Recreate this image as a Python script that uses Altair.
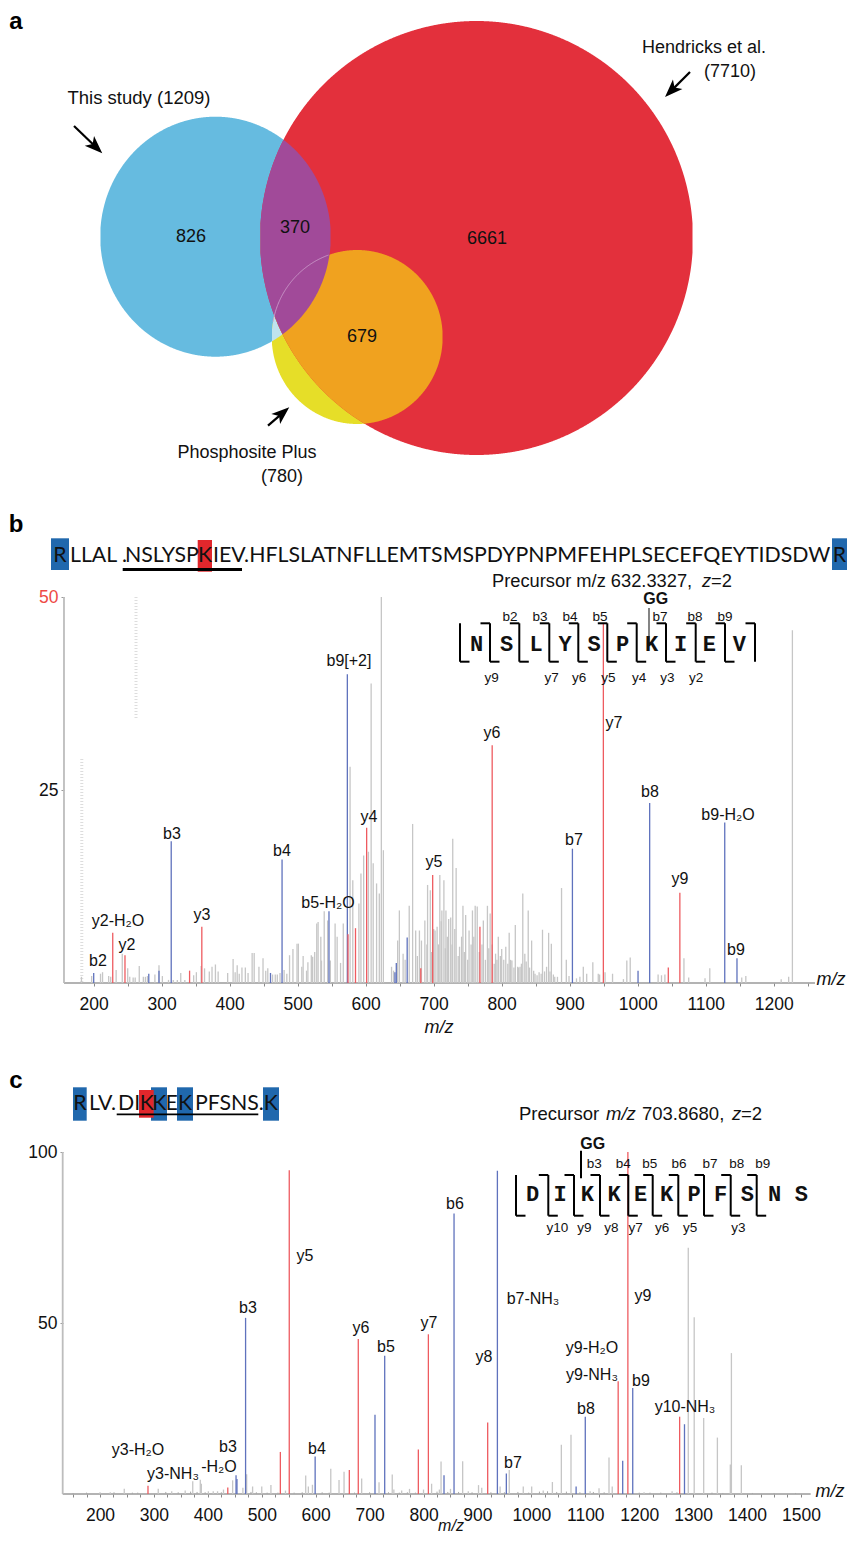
import altair as alt
import numpy as np
import pandas as pd

SANS = "Liberation Sans"
SEQ = "Lato"
MONO = "Liberation Mono"
GRAY, BLUE, RED = "#c6c6c6", "#5f72bd", "#ee5b60"
W, H_A, H_B, H_C = 839, 502, 473, 511

# ---------- panel a values ----------
venn_names = ["study", "hendricks", "psp"]
venn_cx = [215.5, 476.5, 357.2]
venn_cy = [236.7, 238.0, 337.0]
venn_rx = [115.3, 216.5, 85.5]
venn_ry = [120.0, 217.0, 87.0]
venn_labels = ["826", "370", "6661", "679"]
venn_lx = [191, 295, 487, 362]
venn_ly = [237, 228, 239, 337]

# ---------- panel b values ----------
b_gray_mz = [182,197,210,213,222,225,233,242,250,253,258,261,267,273,276,279,290,296,301,310,317,323,328,334,347,351,358,363,370,374,379,383,397,405,408,411,414,418,423,427,433,436,443,449,453,456,463,467,470,474,480,484,488,493,499,501,506,508,513,515,520,522,525,528,530,534,535,539,544,548,555,558,563,567,577,581,590,593,597,604,608,611,616,620,623,626,638,641,647,649.5,655,658,664,669,673.5,676,679,682,687,691,695,702,705,709,712,715,718,722,725,728,733,738,743,747,752,757,761,764,773,779,783,791,795,800,806,811,815,820,823.5,827,831,834,839,844,849,855,860,866,869,873,878,888,895,915,920,925,934,942,944,952,963,979,984,989,1030,1035,1040,1068,1075,1099,1106,1153,1159,1211,1222,1227.5]
b_gray_i = [0.8,0.9,1.2,1.4,0.9,0.8,1.7,3.8,1.9,0.8,0.7,0.7,2.2,0.8,0.8,0.9,1.1,2.3,0.9,0.4,0.4,0.4,1.3,0.4,1.0,1.4,2.2,1.9,1.5,2.1,2.4,1.5,1.3,3.1,1.4,2.3,1.2,2.0,2.0,1.3,3.9,3.9,2.1,3.2,1.6,1.9,1.1,1.1,1.1,1.3,1.7,1.2,3.6,4.4,5.1,5.1,2.1,3.5,1.6,2.7,3.6,3.4,4.0,7.7,7.9,6.0,2.9,9.3,8.1,2.9,7.7,6.0,2.6,7.7,28,13.3,10.3,14.2,16.5,17,38.8,15.5,12.9,11.6,50,17.2,2.1,1.6,5.5,9.4,3.8,3,10,20.6,6.8,3.5,6.8,5.5,8.1,12.7,12,6.8,7.3,14,9.4,13.3,9.4,8.3,8.5,18.7,14.9,4.7,10,8.8,6.8,9.4,10,9.9,8.1,10,9,3.8,6,4.4,4.7,6.5,2.9,7.5,2.1,2.1,11.6,3.8,9.4,5.5,1.2,1.4,6.9,2.1,6.5,5.1,0.8,12.3,3,0.8,2.1,1.2,2.7,1.2,1.1,1.4,1.2,0.5,2.9,3.3,1.1,1,1.1,3.2,0.7,0.6,1.9,0.7,0.9,0.5,0.8,45.7]
b_low_mz = [690,697,700,707,711,717,720,727,731,736,741,745,750,755,759,767,771,776,781,786,789,793,798,803,809,813,818,825,829,836,841,847,852,858,863,871,876,882,899,910]
b_low_i = [5,4,7,5,8,4.5,6,5,7,3.5,6,4,3,5,6,4,5,3,4.5,5,2.5,3,3.5,3,2.5,3,2,2,2.5,2.8,2,1.6,1,1.2,1.5,1.5,1.1,0.8,0.9,0.6]
b_blue_mz = [200,281,296,314,460,477,546,573,643,645,661,904,1000.5,1017.6,1128,1146]
b_blue_i = [1.3,1.2,1.6,18.35,1.3,16,9.3,40,1.4,2.6,5.9,17.4,1.6,23.3,20.8,3.2]
b_red_mz = [228,246,341,359,574,585,601.4,681,698.5,768,786,949.5,1045,1062]
b_red_i = [6.5,3.6,1.6,7.3,6.3,7.1,20.1,1.9,14,7.3,30.8,46.6,2,11.7]
b_ticks = list(range(200, 1300, 50))
b_labels = ["b2","y2-H₂O","y2","b3","y3","b4","b5-H₂O","b9[+2]","y4","y5","y6","y7","b7","b8","b9-H₂O","y9","b9"]
b_lx = [98,118,127,172,202,282,328,349,369,434,492,614,574,650,728,680,736]
b_ly = [961,921,945,834,915,851,903,661,817,862,733,723,840,792,815,879,950]

# ---------- panel c values ----------
c_gray_mz = [200,219,245,308,333,358,372,386,388,401,410,418,429,446,465,472,483,500,517,544,581.5,586.4,594,628,643.3,652.6,685.3,717.5,742,745,759.5,774,800,815,829.4,832.5,850,872.6,883,902,908,942,959,985,1000.6,1022,1039,1055.6,1073.5,1109,1125.5,1144,1150,1209,1261,1291,1302,1319.6,1345,1369,1371,1389.4]
c_gray_i = [0.5,0.5,1.5,1.5,0.8,1,3.7,4.2,3,0.8,0.8,0.8,1.3,4,1.8,5.8,2.2,2.2,2.6,1,5.4,2.2,2.7,7.4,4.1,6.5,4.5,3.4,5.7,1.3,1,1.5,1.3,3,1.3,9.5,1.5,9.6,0.8,2.6,1.8,2.2,7,2.2,2.2,1,3.5,14.4,17.3,0.8,1.7,10.7,2.2,0.5,0.8,72,51.7,22.2,16.5,8.6,41.2,8.4]
c_noise_mz = [150,175,226,260,270,322,345,368,380,395,425,480,490,510,530,560,575,612,625,672,700,735,755,770,785,825,845,865,890,925,950,975,995,1015,1030,1047,1065,1090,1115,1135,1200,1220,1240,1270,1335,1355,1410,1450,1490]
c_noise_i = [0.3,0.4,0.5,0.4,0.4,0.6,0.5,0.7,0.6,0.5,0.5,0.6,0.5,0.4,0.4,0.4,0.5,0.5,0.4,0.4,0.5,0.5,0.4,0.5,0.4,0.7,0.6,0.6,0.5,0.5,0.5,0.6,0.4,0.7,0.8,0.6,0.7,0.5,0.6,0.5,0.4,0.4,0.4,0.5,0.4,0.3,0.3,0.3,0.3]
c_blue_mz = [452.3,454,470,599,710,728,838,856.6,937,953.6,1083,1100,1169.4,1188,1284]
c_blue_i = [5.5,4.4,51.5,11,23.2,40.4,5.5,82,94.5,6,2.2,22.6,9.7,31,20.4]
c_red_mz = [289,437,534.5,551,662.4,679,790.4,809,919,1161,1179,1275]
c_red_i = [2.4,1.9,12.3,94.7,7,45.3,13,46.7,20.9,33,100,22.6]
c_ticks = list(range(150, 1525, 25))
c_labels = ["y3-H₂O","y3-NH₃","b3","-H₂O","b3","b4","y5","y6","b5","y7","b6","y8","b7-NH₃","b7","y9-H₂O","y9-NH₃","b8","y9","b9","y10-NH₃"]
c_lx = [138,173,228,219,248,317,305,361,386,429,455,484,533,513,592,592,586,643,641,685]
c_ly = [1450,1474,1447,1467,1308,1449,1256,1328,1347,1323,1204,1357,1299,1463,1348,1375,1409,1296,1381,1407]

# ---------- fragment maps ----------
bd_letters = list("NSLYSPKIEV")
bd_lx = [476.7,506.7,536,565,594,622.7,651.7,680.7,709.3,739.3]
bd_sep = [460,490,519.3,549.3,578.3,607.3,636.7,666,695.7,725,755]
bd_b = ["b2","b3","b4","b5","b7","b8","b9"]
bd_bx = [510,540,570,600,660,695,725]
bd_y = ["y9","y7","y6","y5","y4","y3","y2"]
bd_yx = [491.7,551.7,579,608.3,639,667.3,696]
cd_letters = list("DIKKEKPFSNS")
cd_lx = [532.7,560,587.3,614,640.7,666.7,694,720.7,747.3,774.7,801.3]
cd_sep = [516,548.3,574,600,628.3,652.7,678.3,704,730.7,756.7]
cd_b = ["b3","b4","b5","b6","b7","b8","b9"]
cd_bx = [594.3,623.3,649.7,679,710,736.7,762.7]
cd_y = ["y10","y9","y8","y7","y6","y5","y3"]
cd_yx = [557.3,584.3,611.3,635.7,662,690,738.3]


# ---------- page-pixel helpers for annotations ----------
class Panel:
    def __init__(self, x0_val, xs, x0_px, y0_val, ys, y0_px, top_px, bottom_px, xaxis=None, yaxis=None):
        self.x0, self.xs, self.x0_px = x0_val, xs, x0_px
        self.y0, self.ys, self.y0_px = y0_val, ys, y0_px
        xdom = [x0_val + (8 - x0_px) / xs, x0_val + (8 + W - x0_px) / xs]
        ydom = [y0_val + (y0_px - bottom_px) / ys, y0_val + (y0_px - top_px) / ys]
        self.xscale = alt.Scale(domain=xdom, zero=False, nice=False)
        self.yscale = alt.Scale(domain=ydom, zero=False, nice=False)
        self.xaxis, self.yaxis = xaxis, yaxis

    def fx(self, px):
        return self.x0 + (np.asarray(px, float) - self.x0_px) / self.xs

    def fy(self, py):
        return self.y0 + (self.y0_px - np.asarray(py, float)) / self.ys

    def enc(self):
        return dict(x=alt.X("x:Q", scale=self.xscale, axis=self.xaxis),
                    y=alt.Y("y:Q", scale=self.yscale, axis=self.yaxis))

    def text(self, txt, px, py, size=16, **kw):
        df = pd.DataFrame({"x": self.fx(px), "y": self.fy(py), "t": txt})
        kw.setdefault("font", SANS)
        kw.setdefault("color", "#111111")
        kw.setdefault("align", "center")
        kw.setdefault("baseline", "middle")
        return alt.Chart(df).mark_text(fontSize=size, **kw).encode(text="t:N", **self.enc())

    def segs(self, x1, y1, x2, y2, color="black", width=2.0, **kw):
        df = pd.DataFrame({"x": self.fx(x1), "y": self.fy(y1), "x2": self.fx(x2), "y2": self.fy(y2)})
        return alt.Chart(df).mark_rule(color=color, strokeWidth=width, **kw).encode(
            x2="x2:Q", y2="y2:Q", **self.enc())

    def rect(self, x1, x2, y1, y2, color):
        df = pd.DataFrame({"x": self.fx([x1]), "y": self.fy([y1]), "x2": self.fx([x2]), "y2": self.fy([y2])})
        return alt.Chart(df).mark_rect(color=color).encode(x2="x2:Q", y2="y2:Q", **self.enc())

    def peaks(self, mz, inten, color, width=1.3, **kw):
        df = pd.DataFrame({"x": mz, "y": inten, "y2": [0.0] * len(mz)})
        return alt.Chart(df).mark_rule(color=color, strokeWidth=width, **kw).encode(
            y2="y2:Q", **self.enc())


def axes(ticks, yvals, off, ylabelcolor):
    xaxis = alt.Axis(values=ticks, title=None, domain=False, grid=False, tickSize=3, tickColor="#8a8a8a",
                     labelFont=SANS, labelFontSize=17.5, labelColor="#111111", labelPadding=9,
                     labelOverlap=False, labelFlush=False, format="d",
                     labelExpr="datum.value % 100 === 0 ? datum.label : ''")
    yaxis = alt.Axis(values=yvals, title=None, domain=False, grid=False, tickSize=3, tickColor="#999999",
                     labelFont=SANS, labelFontSize=17.5, labelPadding=3, offset=off,
                     labelColor=alt.expr(ylabelcolor))
    return xaxis, yaxis


PA = Panel(8, 1.0, 8, 0, 1.0, 0, 0, 0)
PA.fy = lambda py: np.asarray(py, float)
PA.yscale = alt.Scale(domain=[510, 8], zero=False, nice=False)
bx_ax, by_ax = axes(b_ticks, [25, 50], -56, "datum.value === 50 ? '#ee4a45' : '#111111'")
cx_ax, cy_ax = axes(c_ticks, [50, 100], -55, "'#111111'")
PB = Panel(200, 0.68, 93.7, 0, 7.72, 983, 510, 983, bx_ax, by_ax)
PC = Panel(200, 0.5392, 100, 0, 3.42, 1494, 983, 1494, cx_ax, cy_ax)


# ---------- panel a ----------
def tops(i, xs):
    u = np.clip(1 - ((xs - venn_cx[i]) / venn_rx[i]) ** 2, 0, None)
    s = venn_ry[i] * np.sqrt(u)
    inside = np.abs(xs - venn_cx[i]) <= venn_rx[i]
    return venn_cy[i] - s, venn_cy[i] + s, inside


XS = np.arange(95, 700, 0.5)


def region(ids, color):
    top = np.full_like(XS, -1e9)
    bot = np.full_like(XS, 1e9)
    ok = np.ones_like(XS, bool)
    for i in ids:
        t, b, inside = tops(i, XS)
        top, bot, ok = np.maximum(top, t), np.minimum(bot, b), ok & inside
    ok &= top < bot
    df = pd.DataFrame({"x": XS[ok], "y": top[ok], "y2": bot[ok]})
    return alt.Chart(df).mark_area(color=color, orient="vertical").encode(y2="y2:Q", **PA.enc())


arc_x = XS[(XS > 272.5) & (XS < 329)]
arc_df = pd.DataFrame({"x": arc_x, "y": tops(2, arc_x)[0]})
arc = alt.Chart(arc_df).mark_line(color="#cfa3cf", strokeWidth=0.8).encode(**PA.enc())


def arrow(tail, tip):
    tail, tip = np.array(tail, float), np.array(tip, float)
    d = tip - tail
    u = d / np.hypot(*d)
    ang = float(np.degrees(np.arctan2(d[0], -d[1])) % 360)
    c = tip - u * 9
    head = alt.Chart(pd.DataFrame({"x": [c[0]], "y": [c[1]]})).mark_point(
        shape="M0,-1 L0.75,1 L0,0.5 L-0.75,1 Z", filled=True, color="black", opacity=1,
        size=320, angle=ang, strokeWidth=0).encode(**PA.enc())
    line = PA.segs([tail[0]], [tail[1]], [c[0]], [c[1]], width=2.2)
    return line + head


panel_a = alt.layer(
    region([0], "#66bbe0"),
    region([2], "#e6de28"),
    region([0, 2], "#bfe3ee"),
    region([1], "#e3303c"),
    region([1, 2], "#f0a21f"),
    region([0, 1], "#a14a99"),
    arc,
    PA.text(venn_labels, venn_lx, venn_ly, 18),
    PA.text(["This study (1209)"], [139], [98], 18.5),
    PA.text(["Hendricks et al."], [704], [48], 18),
    PA.text(["(7710)"], [730], [72], 18),
    PA.text(["Phosphosite Plus"], [247], [453], 18),
    PA.text(["(780)"], [282], [477], 18),
    PA.text(["a"], [16], [22], 24, fontWeight="bold", color="black"),
    arrow((74, 126), (102.3, 153.3)),
    arrow((690, 72), (665, 97)),
    arrow((268, 425.7), (289.3, 407.3)),
).properties(width=W, height=H_A)


# ---------- spectra ----------
def frame(P, left_mz, right_mz, top_i):
    df = pd.DataFrame({"x": [left_mz], "x2": [right_mz], "y": [0.0]})
    hline = alt.Chart(df).mark_rule(color="#9a9a9a", strokeWidth=1.3).encode(x2="x2:Q", **P.enc())
    vline = P.peaks([left_mz], [top_i], "#bdbdbd", width=1.8)
    return [hline, vline]


def brackets(seps, top, bot, hook, last_bottom):
    x1, y1, x2, y2 = [], [], [], []
    for i, s in enumerate(seps):
        x1.append(s); y1.append(top); x2.append(s); y2.append(bot)
        if i > 0:
            x1.append(s - hook); y1.append(top); x2.append(s); y2.append(top)
        if i < len(seps) - 1 or last_bottom:
            x1.append(s); y1.append(bot); x2.append(s + hook); y2.append(bot)
    return x1, y1, x2, y2


bx = brackets(bd_sep, 623.3, 661.7, 9.5, False)
cx = brackets(cd_sep, 1175, 1215.7, 9.5, True)

panel_b = alt.layer(
    *frame(PB, 156.3, 1260.7, 50),
    PB.peaks([182.5], [29], "#dddddd", width=3, strokeDash=[1, 2]),
    PB.segs([136], [597], [136], [720], color="#dddddd", width=3, strokeDash=[1, 2]),
    PB.peaks(b_gray_mz, b_gray_i, GRAY),
    PB.peaks(b_low_mz, b_low_i, GRAY),
    PB.peaks(b_blue_mz, b_blue_i, BLUE),
    PB.peaks(b_red_mz, b_red_i, RED),
    PB.text(b_labels, b_lx, b_ly, 16),
    PB.text(["m/z"], [831], [980], 18, fontStyle="italic"),
    PB.text(["m/z"], [439], [1028], 18, fontStyle="italic"),
    PB.text(["b"], [16], [525], 24, fontWeight="bold", color="black"),
    PB.rect(51, 69, 538.3, 570, "#2068ad"),
    PB.rect(832, 847, 538.3, 570, "#2068ad"),
    PB.rect(197.7, 212, 540, 571.7, "#e1272c"),
    PB.text(["R"], [60], [556], 21.3, font=SEQ),
    PB.text(["LLAL ."], [70], [556], 21.3, font=SEQ, align="left"),
    PB.text(["NSLYSP"], [125], [556], 21.3, font=SEQ, align="left"),
    PB.text(["K"], [205], [556], 21.3, font=SEQ),
    PB.text(["IEV.HFLSLATNFLLEMTSMSPDYPNPMFEHPLSECEFQEYTIDSDW"], [213], [556], 21.3, font=SEQ, align="left"),
    PB.text(["R"], [846], [556], 21.3, font=SEQ, align="right"),
    PB.segs([122.7], [569.5], [242], [569.5], width=3),
    PB.text(["Precursor m/z 632.3327, "], [492], [581.5], 18.3, align="left"),
    PB.text(["z"], [702], [581.5], 18.3, align="left", fontStyle="italic"),
    PB.text(["=2"], [711], [581.5], 18.3, align="left"),
    PB.text(["GG"], [655.7], [599.3], 16, fontWeight="bold"),
    PB.segs([649], [608], [649], [644], color="#666666", width=1.6),
    PB.segs(*bx, width=2),
    PB.text(bd_letters, bd_lx, [644] * len(bd_lx), 22, font=MONO, fontWeight="bold", color="#111111"),
    PB.text(bd_b, bd_bx, [616.7] * len(bd_bx), 13.5),
    PB.text(bd_y, bd_yx, [678.3] * len(bd_yx), 13.5),
).properties(width=W, height=H_B)

panel_c = alt.layer(
    *frame(PC, 130.8, 1518, 100),
    PC.peaks(c_noise_mz, c_noise_i, "#a8a8a8", width=1),
    PC.peaks(c_gray_mz, c_gray_i, GRAY),
    PC.peaks(c_blue_mz, c_blue_i, BLUE),
    PC.peaks(c_red_mz, c_red_i, RED),
    PC.text(c_labels, c_lx, c_ly, 16),
    PC.text(["m/z"], [830], [1492], 18, fontStyle="italic"),
    PC.text(["m/z"], [451], [1526], 16, fontStyle="italic"),
    PC.text(["c"], [16], [1081], 24, fontWeight="bold", color="black"),
    PC.rect(73, 86.7, 1087.3, 1120.7, "#2068ad"),
    PC.rect(151, 167, 1087.3, 1120.7, "#2068ad"),
    PC.rect(177, 193, 1087.3, 1120.7, "#2068ad"),
    PC.rect(263, 279, 1087.3, 1120.7, "#2068ad"),
    PC.rect(139, 153.7, 1090, 1117.7, "#e1272c"),
    PC.text(["R"], [80], [1104], 21.3, font=SEQ),
    PC.text(["LV."], [89], [1104], 21.3, font=SEQ, align="left"),
    PC.text(["DI"], [118], [1104], 21.3, font=SEQ, align="left"),
    PC.text(["K", "K", "E", "K"], [146.7, 159.3, 171.7, 185], [1104] * 4, 21.3, font=SEQ),
    PC.text(["PFSNS."], [195], [1104], 21.3, font=SEQ, align="left"),
    PC.text(["K"], [270.7], [1104], 21.3, font=SEQ),
    PC.segs([116.7], [1114.3], [258.3], [1114.3], width=1.8),
    PC.text(["Precursor"], [519], [1114], 18.5, align="left"),
    PC.text(["m/z"], [606], [1114], 18.5, align="left", fontStyle="italic"),
    PC.text(["703.8680,"], [642], [1114], 18.5, align="left"),
    PC.text(["z"], [732], [1114], 18.5, align="left", fontStyle="italic"),
    PC.text(["=2"], [741], [1114], 18.5, align="left"),
    PC.text(["GG"], [592.7], [1144.3], 16, fontWeight="bold"),
    PC.segs([581], [1150.7], [581], [1178.3], width=2),
    PC.segs(*cx, width=2),
    PC.text(cd_letters, cd_lx, [1194] * len(cd_lx), 22, font=MONO, fontWeight="bold", color="#111111"),
    PC.text(cd_b, cd_bx, [1164.3] * len(cd_bx), 13.5),
    PC.text(cd_y, cd_yx, [1228.3] * len(cd_yx), 13.5),
).properties(width=W, height=H_C)

chart = alt.vconcat(panel_a, panel_b, panel_c, spacing=0, bounds="flush").properties(padding=0).configure_view(stroke=None)
chart.save("out.html", embed_options={"renderer": "svg", "actions": False})
